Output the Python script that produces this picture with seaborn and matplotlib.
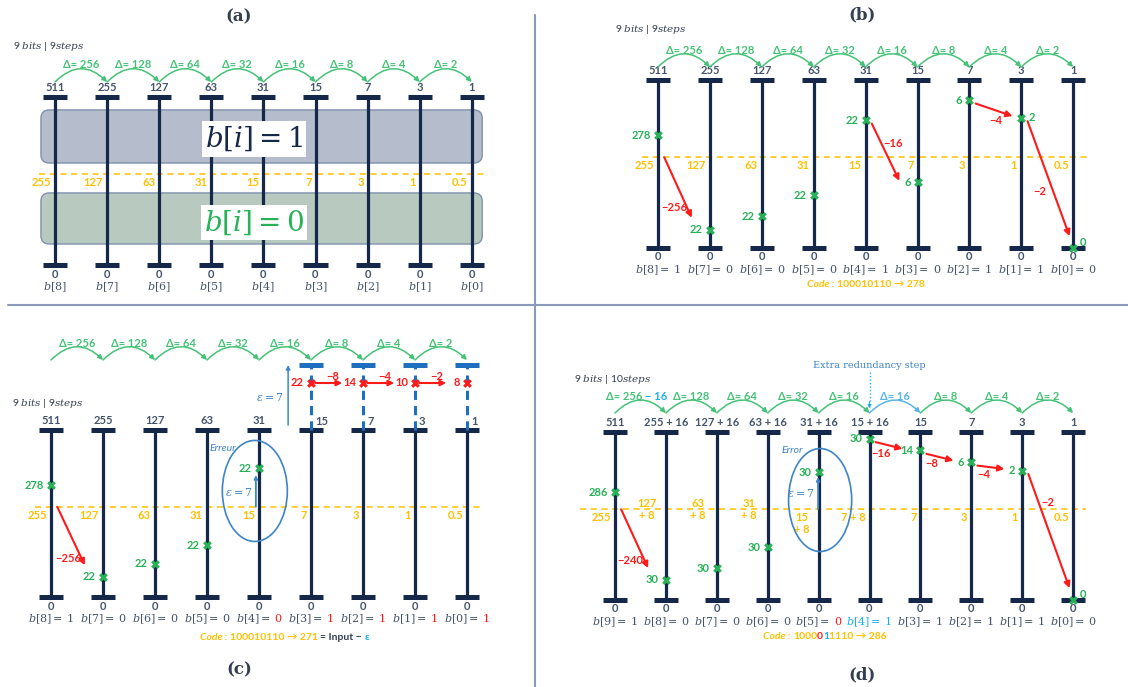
import numpy as np
import pandas as pd
import seaborn as sns
import matplotlib.pyplot as plt
from matplotlib.patches import FancyArrowPatch, FancyBboxPatch, Ellipse
from matplotlib.lines import Line2D

# ---- values ----
tops9 = ["511", "255", "127", "63", "31", "15", "7", "3", "1"]
halves9 = ["255", "127", "63", "31", "15", "7", "3", "1", "0.5"]
deltas9 = ["256", "128", "64", "32", "16", "8", "4", "2"]
bits9 = [8, 7, 6, 5, 4, 3, 2, 1, 0]

# (b) correct conversion of 278
b_values = [278, 22, 22, 22, 22, 6, 6, 2, 0]
b_levels = [0.67, 0.11, 0.19, 0.315, 0.76, 0.39, 0.88, 0.775, 0.0]  # share of column height
b_side = "LLLLLLLRR"
b_bits = ["1", "0", "0", "0", "1", "0", "1", "1", "0"]
b_steps = [(0, 1, "−256"), (4, 5, "−16"), (6, 7, "−4"), (7, 8, "−2")]
b_code, b_result = "100010110", "278"

# (c) conversion with an error at step 31
c_values = [278, 22, 22, 22, 22]
c_levels = [0.67, 0.12, 0.2, 0.31, 0.77]
c_bits = ["1", "0", "0", "0", "0", "1", "1", "1", "1"]
c_red_bits = [4, 5, 6, 7, 8]
c_over = [22, 14, 10, 8]
c_over_steps = ["−8", "−4", "−2"]
c_code, c_result = "100010110", "271"
eps = 7

# (d) 10 steps with one redundant step
d_tops = ["511", "255 + 16", "127 + 16", "63 + 16", "31 + 16", "15 + 16", "15", "7", "3", "1"]
d_halves = ["255", "127\n+ 8", "63\n+ 8", "31\n+ 8", "15\n+ 8", "7 + 8", "7", "3", "1", "0.5"]
d_deltas = ["256", "128", "64", "32", "16", "16", "8", "4", "2"]
d_bit_idx = [9, 8, 7, 6, 5, 4, 3, 2, 1, 0]
d_values = [286, 30, 30, 30, 30, 30, 14, 6, 2, 0]
d_levels = [0.64, 0.12, 0.19, 0.315, 0.76, 0.96, 0.89, 0.82, 0.77, 0.0]
d_side = "LLLLLLLLLR"
d_bits = ["1", "0", "0", "0", "0", "1", "1", "1", "1", "0"]
d_steps = [(0, 1, "−240"), (5, 6, "−16"), (6, 7, "−8"), (7, 8, "−4"), (8, 9, "−2")]
d_code, d_result = "1000011110", "286"

THR = 0.54

sns.set_theme(style="white")
plt.rcParams["font.family"] = ["Lato", "DejaVu Sans"]
plt.rcParams["mathtext.fontset"] = "dejavuserif"

NAVY = "#15284a"
GREY = "#44546a"
DARK = "#333f50"
GREEN = "#27b257"
DGREEN = "#45c277"
GOLD = "#ffc000"
RED = "#ff1a1a"
BLUE = "#3d85c6"
CBLUE = "#1f6fc0"
CYAN = "#1cb0f0"

W, H = 1128, 687
fig = plt.figure(figsize=(W / 100, H / 100), dpi=100, facecolor="white")


def panel(x0, dx, ytop, ybot, n):
    h = ybot - ytop
    xl, yl = (-1.2, n + 0.3), (-0.6, 1.75)
    left, right = x0 + xl[0] * dx, x0 + xl[1] * dx
    low, high = ybot - yl[0] * h, ybot - yl[1] * h
    ax = fig.add_axes([left / W, 1 - low / H, (right - left) / W, (low - high) / H])
    ax.axis("off")
    ax.px = (dx, h)
    ax.lims = (xl, yl)
    return ax


def note(ax, x, y, s, dxp=0, dyp=0, **kw):
    return ax.annotate(s, (x, y), xytext=(dxp * 0.72, -dyp * 0.72),
                       textcoords="offset points", annotation_clip=False, **kw)


def chain(ax, x, y, parts, size=7.5):
    t = None
    for s, c, st in parts:
        if t is None:
            t = note(ax, x, y, s, ha="left", va="center", color=c, fontsize=size,
                     fontweight="bold", style=st)
        else:
            t = ax.annotate(s, xy=(1, 0.5), xycoords=t, ha="left", va="center", color=c,
                            fontsize=size, fontweight="bold", style=st)


def columns(ax, tops, halves, thr_span=(-0.3, 0.3)):
    n = len(tops)
    dx, h = ax.px
    idx = np.arange(n)
    cap = 12 / dx
    ax.vlines(idx, 0, 1, color=NAVY, lw=2.3, zorder=3)
    ax.hlines(np.zeros(n), idx - cap, idx + cap, color=NAVY, lw=3.6, zorder=3)
    ax.hlines(np.ones(n), idx - cap, idx + cap, color=NAVY, lw=3.6, zorder=3)
    ax.plot([thr_span[0], n - 1 + thr_span[1]], [THR, THR], ls=(0, (4, 3)), color=GOLD,
            lw=1.1, zorder=2)
    for i, s in enumerate(halves):
        if "\n" in s and i < 4:
            note(ax, i, THR, s, -19, 0, ha="center", va="center", color=GOLD, fontsize=8,
                 fontweight="bold", linespacing=1.1)
        elif "\n" in s:
            note(ax, i, THR, s, -17, 3, ha="center", va="top", color=GOLD, fontsize=8,
                 fontweight="bold", linespacing=1.1)
        else:
            note(ax, i, THR, s, -4, 3, ha="right", va="top", color=GOLD, fontsize=8,
                 fontweight="bold")
    for i in range(n):
        note(ax, i, 0, "0", 0, 9, ha="center", va="center", color=GREY, fontsize=8,
             fontweight="bold")


def top_labels(ax, tops, skip=()):
    for i, s in enumerate(tops):
        if i in skip:
            note(ax, i, 1, s, 4, -3, ha="left", va="bottom", color=GREY, fontsize=8,
                 fontweight="bold")
        else:
            note(ax, i, 1, s, 0, -4, ha="center", va="bottom", color=GREY, fontsize=8,
                 fontweight="bold")


def bit_labels(ax, idxs, vals, val_colors, pre_colors):
    for i, (k, v) in enumerate(zip(idxs, vals)):
        note(ax, i, 0, r"$b[%d] =$" % k, 12, 25, ha="right", va="baseline",
             color=pre_colors[i], fontsize=8)
        note(ax, i, 0, r"$%s$" % v, 15, 25, ha="left", va="baseline",
             color=val_colors[i], fontsize=8)


def arcs(ax, level, labels, colors):
    for i, lab in enumerate(labels):
        ax.add_patch(FancyArrowPatch((i, level), (i + 1, level),
                                     connectionstyle="arc3,rad=-0.5", arrowstyle="-|>",
                                     mutation_scale=7, color=colors[i], lw=1.1,
                                     shrinkA=0, shrinkB=0, zorder=4, clip_on=False))
        if lab is not None:
            note(ax, i + 0.5, level, "Δ= " + lab, 0, -17, ha="center", va="center",
                 color=colors[i], fontsize=8, fontweight="bold")


def markers(ax, xs, ys, color):
    df = pd.DataFrame({"col": xs, "level": ys})
    sns.scatterplot(data=df, x="col", y="level", marker="X", s=40, color=color,
                    linewidth=0, legend=False, ax=ax, zorder=6, clip_on=False)


def marker_labels(ax, values, levels, sides):
    n = len(values)
    for i, (v, l) in enumerate(zip(values, levels)):
        if sides[i] == "R":
            dy = -6 if i == n - 1 else 0
            note(ax, i, l, str(v), 7, dy, ha="left", va="center", color=GREEN,
                 fontsize=8, fontweight="bold")
        else:
            note(ax, i, l, str(v), -7, 0, ha="right", va="center", color=GREEN,
                 fontsize=8, fontweight="bold")


def steps(ax, levels, sides, step_list, offsets):
    n = len(levels)
    for (i, j, lab), (ox, oy) in zip(step_list, offsets):
        y0 = THR if i == 0 else levels[i] - 0.02
        x0 = i + 0.12
        lj = levels[j]
        y1 = lj + (0.07 if lj < 0.25 else 0.01)
        if j == n - 1:
            x1 = j - 0.07
        elif sides[j] == "R":
            x1 = j - 0.17
        else:
            x1 = j - 0.35
        ax.annotate("", xy=(x1, y1), xytext=(x0, y0), annotation_clip=False,
                    arrowprops=dict(arrowstyle="-|>", color=RED, lw=1.5, mutation_scale=9,
                                    shrinkA=0, shrinkB=0), zorder=5)
        note(ax, (x0 + x1) / 2, (y0 + y1) / 2, lab, ox, oy, ha="center", va="center",
             color=RED, fontsize=8, fontweight="bold")


def header(ax, x, level, text):
    note(ax, x, level, text, ha="left", va="center", color=DARK, fontsize=7.5)


# ---------------- panel (a) ----------------
A = panel(55, 52.1, 97, 265, 9)
dx, h = A.px
for y0, y1, fc, ec in [(0.607, 0.923, "#b5bdcc", "#7f90ae"), (0.125, 0.429, "#b8cabf", "#7f90ae")]:
    A.add_patch(FancyBboxPatch((-0.27, y0), 8.47, y1 - y0,
                               boxstyle="round,pad=0,rounding_size=0.16",
                               mutation_aspect=dx / h, fc=fc, ec=ec, lw=1, zorder=1))
columns(A, tops9, halves9)
top_labels(A, tops9)
arcs(A, 1 + 15 / h, deltas9, [DGREEN] * 8)
for i, k in enumerate(bits9):
    note(A, i, 0, r"$b[%d]$" % k, 0, 25, ha="center", va="baseline", color=GREY, fontsize=8)
note(A, 3.82, 0.75, r"$b[i] = 1$", ha="center", va="center", color=NAVY, fontsize=20,
     bbox=dict(boxstyle="square,pad=0.12", fc="white", ec="none"), zorder=7)
note(A, 3.82, 0.253, r"$b[i] = 0$", ha="center", va="center", color=GREEN, fontsize=20,
     bbox=dict(boxstyle="square,pad=0.12", fc="white", ec="none"), zorder=7)
header(A, -0.81, 1.30, r"9 $bits$ | 9$steps$")

# ---------------- panel (b) ----------------
B = panel(658, 51.9, 80, 248, 9)
dx, h = B.px
columns(B, tops9, halves9)
top_labels(B, tops9)
arcs(B, 1 + 13 / h, deltas9, [DGREEN] * 8)
markers(B, list(range(9)), b_levels, GREEN)
marker_labels(B, b_values, b_levels, b_side)
steps(B, b_levels, b_side, b_steps, [(-4, 20), (7, -9), (2, 11), (-9, 13)])
bit_labels(B, bits9, b_bits, [GREY] * 9, [GREY] * 9)
header(B, -0.83, 1.30, r"9 $bits$ | 9$steps$")
chain(B, 2.87, -0.22, [("Code : ", GOLD, "italic"), (b_code + " → " + b_result, GOLD, "normal")])

# ---------------- panel (c) ----------------
C = panel(51, 52.0, 430, 597, 9)
dx, h = C.px
columns(C, tops9, halves9)
top_labels(C, tops9, skip=(5, 6, 7, 8))
over_lvl, cap_lvl = 1 + 47 / h, 1 + 65 / h
ext = np.arange(5, 9)
C.vlines(ext, 1, cap_lvl, color=CBLUE, lw=2.2, ls=(0, (3, 2)), zorder=3)
C.hlines(np.full(4, cap_lvl), ext - 12 / dx, ext + 12 / dx, color=CBLUE, lw=3.6, zorder=3)
arcs(C, 1 + 70 / h, deltas9, [DGREEN] * 8)
markers(C, list(range(5)), c_levels, GREEN)
marker_labels(C, c_values, c_levels, "LLLLL")
steps(C, c_levels, "LLLLL", [(0, 1, "−256")], [(-3, 22)])
markers(C, list(ext), [over_lvl] * 4, RED)
for k, v in zip(ext, c_over):
    note(C, k, over_lvl, str(v), -7, 0, ha="right", va="center", color=RED, fontsize=8,
         fontweight="bold")
for k, lab in zip(ext[:-1], c_over_steps):
    C.annotate("", xy=(k + 0.6, over_lvl), xytext=(k + 0.08, over_lvl), annotation_clip=False,
               arrowprops=dict(arrowstyle="-|>", color=RED, lw=1.5, mutation_scale=8,
                               shrinkA=0, shrinkB=0))
    note(C, k + 0.34, over_lvl, lab, 4, -7, ha="center", va="center", color=RED, fontsize=8,
         fontweight="bold")
C.annotate("", xy=(4.56, cap_lvl), xytext=(4.56, 1.03), annotation_clip=False,
           arrowprops=dict(arrowstyle="-|>", color=BLUE, lw=1.1, mutation_scale=6, shrinkA=0, shrinkB=0))
note(C, 4.56, 1.2, r"$\varepsilon = %d$" % eps, -4, 0, ha="right", va="center", color=BLUE, fontsize=8)
C.add_patch(Ellipse((3.92, 0.635), 1.25, 0.605, fill=False, ec=BLUE, lw=1.2, zorder=4, clip_on=False))
note(C, 3.04, 0.89, "Erreur", ha="left", va="center", color=BLUE, fontsize=7.5, style="italic")
C.annotate("", xy=(3.94, 0.73), xytext=(3.94, THR), annotation_clip=False,
           arrowprops=dict(arrowstyle="-|>", color=BLUE, lw=1.3, mutation_scale=5, shrinkA=0, shrinkB=0))
note(C, 3.94, 0.63, r"$\varepsilon = %d$" % eps, -3, 0, ha="right", va="center", color=BLUE, fontsize=8)
c_pre = [GREY] * 9
c_valc = [RED if i in c_red_bits else GREY for i in range(9)]
bit_labels(C, bits9, c_bits, c_valc, c_pre)
header(C, -0.75, 1.16, r"9 $bits$ | 9$steps$")
chain(C, 2.87, -0.24, [("Code : ", GOLD, "italic"), (c_code + " → " + c_result + " ", GOLD, "normal"),
                       ("= Input − ", DARK, "normal"), ("ε", CYAN, "normal")])

# ---------------- panel (d) ----------------
D = panel(615, 50.9, 432, 600, 10)
dx, h = D.px
columns(D, d_tops, d_halves, thr_span=(-0.69, 0.25))
top_labels(D, d_tops)
arc_cols = [DGREEN] * 9
arc_cols[5] = "#5ab4e8"
d_lab = [None] + d_deltas[1:]
arc_lvl = 1 + 19 / h
arcs(D, arc_lvl, d_lab, arc_cols)
note(D, 0.5, arc_lvl, "Δ= " + d_deltas[0], 2, -17, ha="right", va="center", color=DGREEN,
     fontsize=8, fontweight="bold")
note(D, 0.5, arc_lvl, "− 16", 5, -17, ha="left", va="center", color=CYAN, fontsize=8,
     fontweight="bold")
markers(D, list(range(10)), d_levels, GREEN)
marker_labels(D, d_values, d_levels, d_side)
steps(D, d_levels, d_side, d_steps, [(-4, 22), (-8, 8), (-8, 6), (-7, 7), (-1, -29)])
D.add_patch(Ellipse((4.03, 0.595), 1.24, 0.613, fill=False, ec=BLUE, lw=1.2, zorder=4, clip_on=False))
note(D, 3.28, 0.887, "Error", ha="left", va="center", color=BLUE, fontsize=7.5, style="italic")
D.annotate("", xy=(3.99, 0.732), xytext=(3.99, THR), annotation_clip=False,
           arrowprops=dict(arrowstyle="-|>", color=BLUE, lw=1.3, mutation_scale=5, shrinkA=0, shrinkB=0))
note(D, 3.99, 0.637, r"$\varepsilon = %d$" % eps, -3, 0, ha="right", va="center", color=BLUE, fontsize=8)
note(D, 5, 1.393, "Extra redundancy step", ha="center", va="center", color=BLUE, fontsize=7,
     family="DejaVu Serif")
D.plot([5, 5], [1.36, 1.17], ls=(0, (1, 1.5)), color=CYAN, lw=1)
D.annotate("", xy=(5, 1.14), xytext=(5, 1.18), annotation_clip=False,
           arrowprops=dict(arrowstyle="-|>", color=CYAN, lw=0.8, mutation_scale=5, shrinkA=0, shrinkB=0))
d_pre = [GREY] * 10
d_pre[5] = CYAN
d_valc = [GREY] * 10
d_valc[4] = RED
d_valc[5] = CYAN
bit_labels(D, d_bit_idx, d_bits, d_valc, d_pre)
header(D, -0.8, 1.31, r"9 $bits$ | 10$steps$")
chain(D, 2.91, -0.22, [("Code : ", GOLD, "italic"), (d_code[:4], GOLD, "normal"),
                       (d_code[4], RED, "normal"), (d_code[5], CYAN, "normal"),
                       (d_code[6:] + " → " + d_result, GOLD, "normal")])

for ax in (A, B, C, D):
    ax.set_xlim(*ax.lims[0])
    ax.set_ylim(*ax.lims[1])

# panel titles and dividers
for x, y, s in [(239, 17, "(a)"), (862, 15, "(b)"), (239, 670, "(c)"), (862, 675, "(d)")]:
    fig.text(x / W, 1 - y / H, s, ha="center", va="center", fontsize=12, fontweight="bold",
             family="DejaVu Serif", color=DARK)
fig.add_artist(Line2D([8 / W, 1], [1 - 305 / H] * 2, color="#8a9ab8", lw=1.5))
fig.add_artist(Line2D([535 / W] * 2, [1 - 15 / H, 0], color="#8a9ab8", lw=1.5))

fig.savefig("out.png", dpi=100, facecolor="white")
